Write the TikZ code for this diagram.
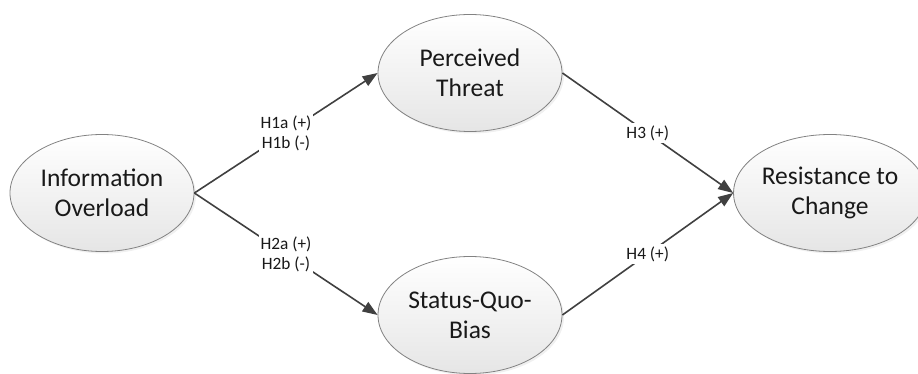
\documentclass[tikz,border=0pt]{standalone}
\usepackage{fontspec}
\setmainfont{Carlito}
\usepackage{tikz}
\usetikzlibrary{shapes.geometric,arrows.meta,shadows}
\definecolor{edgegray}{RGB}{64,64,64}
\definecolor{rimgray}{RGB}{130,130,130}
\definecolor{textgray}{RGB}{25,25,25}
\tikzset{construct/.style={ellipse, draw=rimgray, line width=0.8pt,
    top color=white, bottom color=black!10,
    minimum width=184pt, minimum height=117pt, inner sep=0pt,
    align=center, text=textgray, font=\fontsize{25.5}{30}\selectfont,
    drop shadow={shadow xshift=2pt, shadow yshift=-2pt, opacity=0.12}}}
\tikzset{hypo/.style={draw=edgegray, line width=1.6pt,
    -{Triangle[length=15pt,width=11pt]}}}
\tikzset{hlabel/.style={fill=white, inner sep=2pt, align=center,
    text=textgray, font=\fontsize{17.3}{20}\selectfont}}

\begin{document}
\begin{tikzpicture}[x=1pt,y=-1pt]
        \useasboundingbox (0,0) rectangle (918,374);
        % Constructs
        \node[construct] (io) at (102,193) {Information\\Overload};
        \node[construct] (pt) at (470,73) {Perceived\\Threat};
        \node[construct] (sqb) at (470,315) {Status-Quo-\\Bias};
        \node[construct, minimum width=172pt] (rc) at (830,193)
        {Resistance to\\Change};
        % Hypotheses
        \draw[hypo] (io.east) -- node[hlabel]
        {H1a (+)\\H1b (-)} (pt.west);
        \draw[hypo] (io.east) -- node[hlabel]
        {H2a (+)\\H2b (-)} (sqb.west);
        \draw[hypo] (pt.east) -- node[hlabel] {H3 (+)} (rc.west);
        \draw[hypo] (sqb.east) -- node[hlabel] {H4 (+)} (rc.west);
    \end{tikzpicture}
\end{document}
